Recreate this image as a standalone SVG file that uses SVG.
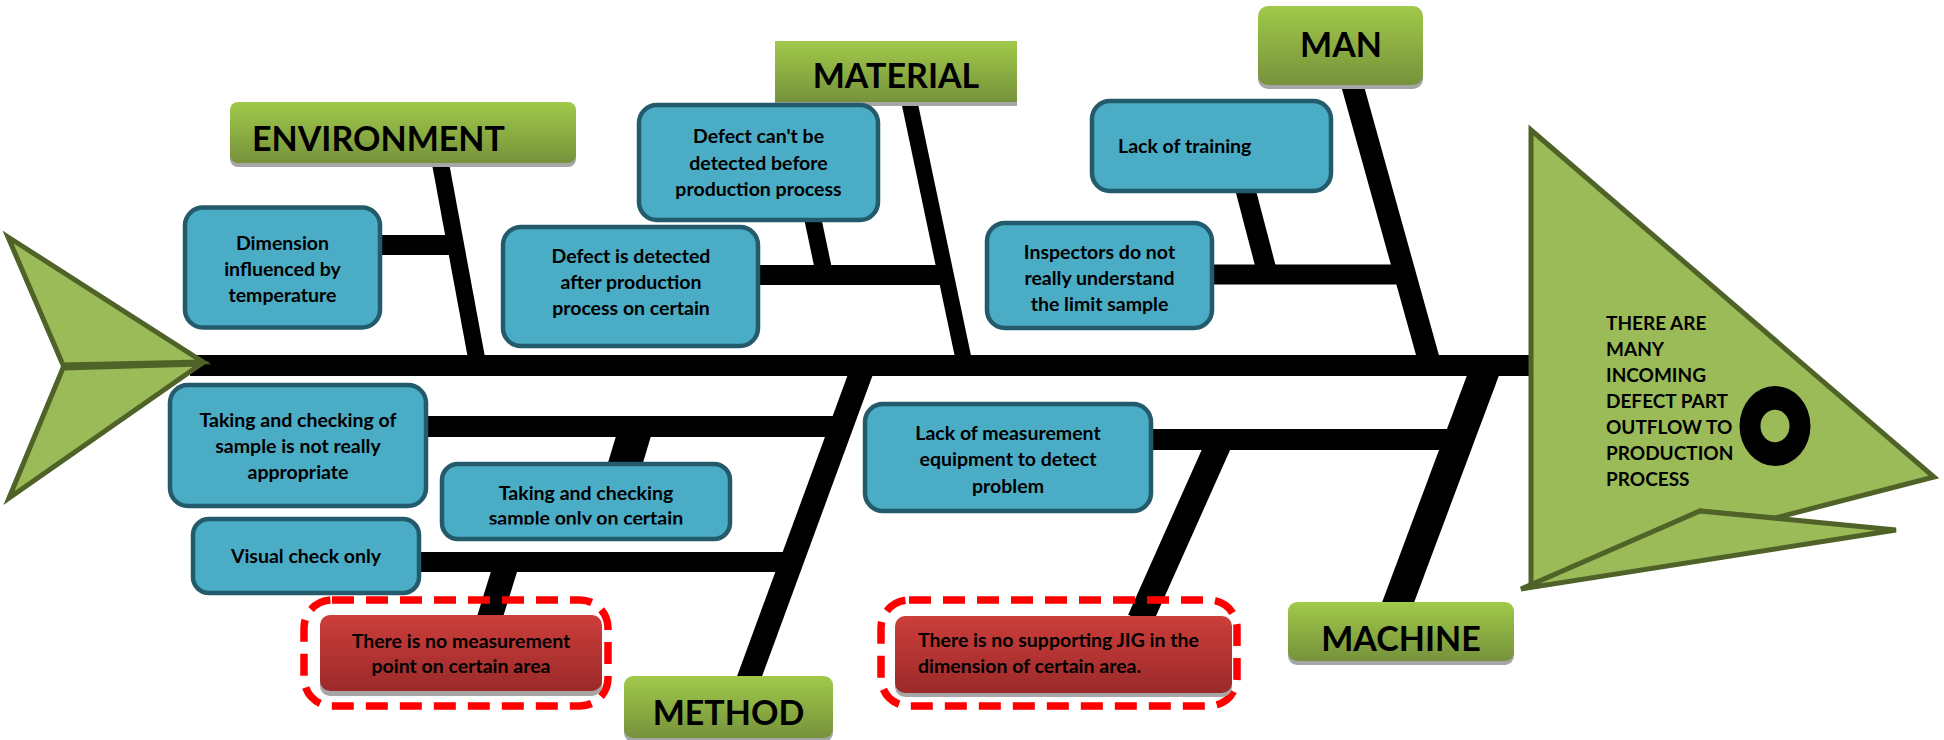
<svg xmlns="http://www.w3.org/2000/svg" width="1944" height="740" viewBox="0 0 1944 740">
  <style>
    .bone { stroke: #000; fill: none; stroke-linecap: butt; }
    .fin { fill: #9BBB59; stroke: #4F6228; stroke-width: 5; stroke-linejoin: miter; }
    .cause { fill: #4BACC6; stroke: #235B6C; stroke-width: 4.5; }
    .cat { fill: url(#catGrad); }
    .catShadow { fill: #A6A6A6; }
    .root { fill: url(#rootGrad); }
    .dash { fill: none; stroke: #FF0000; stroke-width: 7.5; stroke-dasharray: 22 12; }
    .t { font-family: Lato, "Liberation Sans", sans-serif; font-weight: 700; font-size: 19.5px; fill: #000; }
    .c { text-anchor: middle; }
    .big { font-family: Lato, "Liberation Sans", sans-serif; font-weight: 700; font-size: 34px; fill: #000; }
    .head { font-family: Lato, "Liberation Sans", sans-serif; font-weight: 700; font-size: 19px; fill: #000; }
  </style>
  <defs>
    <linearGradient id="catGrad" x1="0" y1="0" x2="0" y2="1">
      <stop offset="0" stop-color="#A1C94A"/>
      <stop offset="1" stop-color="#76923B"/>
    </linearGradient>
    <linearGradient id="rootGrad" x1="0" y1="0" x2="0" y2="1">
      <stop offset="0" stop-color="#CC3E3A"/>
      <stop offset="1" stop-color="#9B2A2A"/>
    </linearGradient>
    <clipPath id="clipSample">
      <rect x="442" y="464" width="288" height="60.5"/>
    </clipPath>
  </defs>

  <!-- skeleton: spine, main bones and sub-bones -->
  <g id="connectors">
    <line class="bone" x1="190" y1="365.5" x2="1531" y2="365.5" stroke-width="21"/>
    <!-- environment -->
    <line class="bone" x1="439.5" y1="158" x2="478" y2="366" stroke-width="17"/>
    <line class="bone" x1="378" y1="245" x2="457" y2="245" stroke-width="20"/>
    <!-- material -->
    <line class="bone" x1="909" y1="100" x2="965" y2="366" stroke-width="16"/>
    <line class="bone" x1="756" y1="275" x2="947" y2="275" stroke-width="20"/>
    <line class="bone" x1="812" y1="215" x2="824" y2="272" stroke-width="17"/>
    <!-- man -->
    <line class="bone" x1="1352" y1="84" x2="1430.5" y2="366" stroke-width="22"/>
    <line class="bone" x1="1210" y1="274.5" x2="1402" y2="274.5" stroke-width="20"/>
    <line class="bone" x1="1245" y1="188" x2="1267" y2="272" stroke-width="20"/>
    <!-- method -->
    <line class="bone" x1="865" y1="362" x2="744.5" y2="690" stroke-width="23.5"/>
    <line class="bone" x1="424" y1="426.5" x2="846" y2="426.5" stroke-width="21"/>
    <polygon points="616,436 651,436 642,466 607,466" fill="#000"/>
    <line class="bone" x1="418" y1="562" x2="796" y2="562" stroke-width="20"/>
    <line class="bone" x1="507" y1="562" x2="489" y2="620" stroke-width="25"/>
    <!-- machine -->
    <line class="bone" x1="1488" y1="362" x2="1394.5" y2="612" stroke-width="30"/>
    <line class="bone" x1="1150" y1="439.5" x2="1463" y2="439.5" stroke-width="21"/>
    <line class="bone" x1="1219" y1="443" x2="1140" y2="620" stroke-width="26"/>
  </g>

  <!-- tail -->
  <g id="tail">
    <polygon class="fin" points="8,237 203,362 63,365"/>
    <polygon class="fin" points="9,498 63,368 201,364"/>
  </g>

  <!-- head with problem statement -->
  <g id="head">
    <polygon class="fin" points="1531,130 1934,477 1775,518 1700,511 1545,580 1531,585"/>
    <polygon class="fin" points="1700,511 1896,530 1521,589"/>
    <path d="M1739.5,426 a35.5,40 0 1,0 71,0 a35.5,40 0 1,0 -71,0 Z M1760.5,426 a14.5,16.3 0 1,0 29,0 a14.5,16.3 0 1,0 -29,0 Z" fill="#000" fill-rule="evenodd"/>
    <text class="head" x="1606" y="330">THERE ARE</text>
    <text class="head" x="1606" y="356">MANY</text>
    <text class="head" x="1606" y="382">INCOMING</text>
    <text class="head" x="1606" y="408">DEFECT PART</text>
    <text class="head" x="1606" y="434">OUTFLOW TO</text>
    <text class="head" x="1606" y="460">PRODUCTION</text>
    <text class="head" x="1606" y="486">PROCESS</text>
  </g>

  <!-- category labels -->
  <g id="cat-environment">
    <rect class="catShadow" x="230" y="106" width="346" height="61" rx="8"/>
    <rect class="cat" x="230" y="102" width="346" height="61" rx="8"/>
    <text class="big" x="252" y="151">ENVIRONMENT</text>
  </g>
  <g id="cat-material">
    <rect class="catShadow" x="775" y="45" width="242" height="61"/>
    <rect class="cat" x="775" y="41" width="242" height="61"/>
    <text class="big c" x="896" y="88">MATERIAL</text>
  </g>
  <g id="cat-man">
    <rect class="catShadow" x="1258" y="10" width="165" height="79" rx="10"/>
    <rect class="cat" x="1258" y="6" width="165" height="79" rx="10"/>
    <text class="big" x="1300" y="57">MAN</text>
  </g>
  <g id="cat-machine">
    <rect class="catShadow" x="1288" y="606" width="226" height="59" rx="9"/>
    <rect class="cat" x="1288" y="602" width="226" height="59" rx="9"/>
    <text class="big c" x="1401" y="651">MACHINE</text>
  </g>
  <g id="cat-method">
    <rect class="catShadow" x="624" y="680" width="209" height="62" rx="9"/>
    <rect class="cat" x="624" y="676" width="209" height="62" rx="9"/>
    <text class="big c" x="728.5" y="725">METHOD</text>
  </g>

  <!-- causes -->
  <g id="cause-dimension">
    <rect class="cause" x="185" y="207.5" width="195" height="120" rx="18"/>
    <text class="t c" x="282.5" y="250">Dimension</text>
    <text class="t c" x="282.5" y="276">influenced by</text>
    <text class="t c" x="282.5" y="302">temperature</text>
  </g>
  <g id="cause-before-production">
    <rect class="cause" x="639" y="105" width="239" height="115" rx="18"/>
    <text class="t c" x="758.5" y="143">Defect can't be</text>
    <text class="t c" x="758.5" y="170">detected before</text>
    <text class="t c" x="758.5" y="196">production process</text>
  </g>
  <g id="cause-after-production">
    <rect class="cause" x="503" y="227" width="255" height="119" rx="18"/>
    <text class="t c" x="631" y="263">Defect is detected</text>
    <text class="t c" x="631" y="289">after production</text>
    <text class="t c" x="631" y="315">process on certain</text>
  </g>
  <g id="cause-training">
    <rect class="cause" x="1092" y="101" width="239" height="90" rx="18"/>
    <text class="t" x="1118" y="153">Lack of training</text>
  </g>
  <g id="cause-limit-sample">
    <rect class="cause" x="987" y="223" width="225" height="105" rx="18"/>
    <text class="t c" x="1099.5" y="259">Inspectors do not</text>
    <text class="t c" x="1099.5" y="285">really understand</text>
    <text class="t c" x="1099.5" y="311">the limit sample</text>
  </g>
  <g id="cause-sample-appropriate">
    <rect class="cause" x="170" y="385" width="256" height="121" rx="18"/>
    <text class="t c" x="298" y="427">Taking and checking of</text>
    <text class="t c" x="298" y="453">sample is not really</text>
    <text class="t c" x="298" y="479">appropriate</text>
  </g>
  <g id="cause-sample-area">
    <rect class="cause" x="442" y="464" width="288" height="75" rx="16"/>
    <g clip-path="url(#clipSample)">
      <text class="t c" x="586" y="500">Taking and checking</text>
      <text class="t c" x="586" y="525">sample only on certain</text>
    </g>
  </g>
  <g id="cause-visual">
    <rect class="cause" x="193" y="519" width="226" height="74" rx="16"/>
    <text class="t c" x="306" y="563">Visual check only</text>
  </g>
  <g id="cause-equipment">
    <rect class="cause" x="865" y="404" width="286" height="107" rx="18"/>
    <text class="t c" x="1008" y="440">Lack of measurement</text>
    <text class="t c" x="1008" y="466">equipment to detect</text>
    <text class="t c" x="1008" y="493">problem</text>
  </g>

  <!-- root causes -->
  <g id="root-measurement-point">
    <rect class="dash" x="304" y="600" width="304" height="106" rx="28"/>
    <rect class="catShadow" x="320" y="620" width="282" height="76" rx="10"/>
    <rect class="root" x="320" y="615" width="282" height="76" rx="10"/>
    <text class="t c" x="461" y="648">There is no measurement</text>
    <text class="t c" x="461" y="673">point on certain area</text>
  </g>
  <g id="root-jig">
    <rect class="dash" x="881" y="600" width="356" height="106" rx="28"/>
    <rect class="catShadow" x="895" y="620" width="337" height="77" rx="10"/>
    <rect class="root" x="895" y="616" width="337" height="77" rx="10"/>
    <text class="t" x="918" y="647">There is no supporting JIG in the</text>
    <text class="t" x="918" y="673">dimension of certain area.</text>
  </g>
</svg>
